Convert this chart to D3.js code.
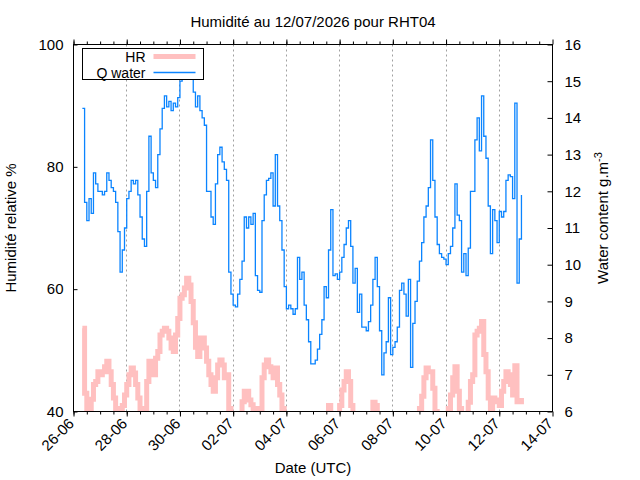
<!DOCTYPE html>
<html>
<head>
<meta charset="utf-8">
<script src="https://cdn.jsdelivr.net/npm/d3@7"></script>
<style>
  body { margin: 0; background: #fff; }
  text { font-family: "Liberation Sans", Arial, sans-serif; fill: #000; }
</style>
</head>
<body>
<div id="chart"></div>
<script>

// first sample 26-06 08:00 UTC, one sample every 2 hours
var startTime = Date.UTC(2026, 5, 26, 8);
var stepHours = 2;

// Q water (g.m-3), right axis
var qWater = [
  14.26, 11.7, 11.2, 11.8, 11.4, 12.5, 12.2, 12.0,
  12.0, 11.9, 12.0, 12.5, 12.3, 12.1, 12.0, 11.7, 10.9, 9.8, 10.4, 11.0,
  11.8, 12.0, 12.3, 12.2, 12.3, 11.9, 11.3, 10.7, 10.5, 12.0, 13.5, 12.5,
  12.3, 12.1, 13.0, 13.7, 14.26, 14.6, 14.3, 14.45, 14.2, 14.4, 14.3, 14.55,
  15.0, 15.3, 15.4, 15.5, 15.4, 15.1, 14.7, 14.3, 14.6, 14.2, 14.0, 13.8,
  12.0, 12.0, 11.3, 11.1, 12.2, 13.0, 13.2, 12.8, 12.6, 12.3, 9.8, 9.2,
  8.9, 8.85, 9.2, 9.6, 10.1, 11.3, 11.0, 11.3, 11.1, 11.4, 9.7, 9.3,
  9.25, 11.2, 11.9, 12.3, 12.35, 12.5, 11.6, 13.0, 11.6, 11.2, 10.4, 9.4,
  8.8, 8.9, 8.8, 8.65, 8.8, 10.2, 9.6, 9.8, 8.9, 8.5, 7.9, 7.3,
  7.3, 7.4, 7.7, 8.1, 8.5, 9.4, 9.1, 10.4, 11.5, 9.7, 9.75, 9.6,
  9.8, 10.2, 10.55, 11.0, 11.2, 10.5, 9.5, 9.9, 8.7, 9.2, 8.3, 8.3,
  8.2, 8.45, 8.9, 9.6, 10.2, 9.4, 8.2, 7.0, 7.6, 7.9, 9.1, 7.55,
  7.75, 7.9, 8.3, 9.3, 9.5, 9.2, 8.6, 9.6, 7.2, 8.4, 9.0, 9.55,
  10.1, 10.6, 11.3, 11.6, 12.1, 13.4, 12.3, 11.3, 10.55, 10.3, 10.2, 10.15,
  10.0, 10.3, 10.5, 11.0, 12.2, 11.35, 11.2, 9.8, 10.3, 9.7, 10.45, 12.0,
  12.0, 13.4, 14.0, 13.1, 14.6, 13.5, 12.9, 11.6, 10.3, 11.5, 11.2, 10.6,
  11.45, 11.3, 11.45, 12.3, 12.45, 12.4, 11.8, 14.4, 9.5, 10.7, 11.9
];

// HR (%), left axis
var hrValues = [
  53.6, 43, 39, 40.2, 42, 44.4, 44.9, 46.5,
  46, 46.5, 47.3, 48.2, 46.5, 44.4, 42.2, 40.5, 39.5, 39, 41, 42.7,
  44.4, 46, 47.1, 46.3, 44.4, 42.2, 40.5, 39.5, 40.5, 44.9, 48.2, 46.5,
  46, 48.7, 49.8, 52.5, 53.1, 53.6, 53.1, 52, 50.4, 49.8, 52.5, 55.2,
  58.5, 59.1, 60.2, 61.8, 60.7, 58, 54.5, 50.5, 49, 52, 52, 50.4,
  48.2, 46, 44.4, 43.3, 45.5, 47.6, 48.4, 47.6, 45.5, 46, 40.5, 38.9,
  38, 38, 37.5, 37, 41.6, 43.3, 43.3, 41.9, 41.1, 40.5, 39.5, 38.9,
  40.5, 45.5, 47.6, 48.4, 47.3, 46.5, 45.5, 47.1, 44.4, 42.7, 40.5, 38.9,
  37.5, 36.8, 36, 35.5, 35.8, 36.5, 36.2, 35.8, 35.5, 36, 36.8, 37.5,
  38, 38.5, 38.2, 37.8, 38, 38.5, 39.2, 41, 39.5, 38.6, 38.2, 39,
  41, 43.5, 44.9, 46.5, 44.9, 41, 39.5, 38.5, 37.8, 37.5, 37.2, 37.5,
  38, 38.5, 39.5, 41.5, 41, 39.5, 38.5, 37.8, 37.2, 36.8, 36.5, 36.2,
  36, 35.8, 35.5, 35.8, 36.2, 36.8, 37.5, 38, 38.2, 38.5, 38.2, 38,
  40.5, 42.5, 45.5, 47.1, 46.5, 46.5, 43.8, 40, 38.5, 38, 37.8, 38.5,
  39, 40.5, 42.7, 45.5, 47.3, 43.3, 40.5, 38.5, 38, 39, 41.5, 44.9,
  46, 52.5, 53.1, 53.6, 54.7, 49.3, 46.5, 42.2, 40.5, 42.2, 41.6, 41.9,
  41, 43.3, 44.9, 46.5, 46, 44.4, 42.7, 47.5, 41.6, 41.6, 42.2
];

var xTickLabels = ["26-06", "28-06", "30-06", "02-07", "04-07", "06-07", "08-07", "10-07", "12-07", "14-07"];
var hrTicks = [40, 60, 80, 100];
var qTicks = [6, 7, 8, 9, 10, 11, 12, 13, 14, 15, 16];
var seriesNames = ["HR", "Q water"];

// set the dimensions and margins of the graph
var margin = { top: 44, right: 88, bottom: 69, left: 73 };
var width = 640 - margin.left - margin.right;
var height = 480 - margin.top - margin.bottom;

var svg = d3.select("#chart")
  .append("svg")
  .attr("width", 640)
  .attr("height", 480)
  .append("g")
  .attr("transform", "translate(" + (margin.left + 0.5) + "," + (margin.top + 0.5) + ")");

var parseTick = d3.utcParse("%d-%m-%Y");
var tickDates = xTickLabels.map(function (s) { return parseTick(s + "-2026"); });

var data = qWater.map(function (q, i) {
  return { date: new Date(startTime + i * stepHours * 3600000), q: q, hr: hrValues[i] };
});

// scales
var x = d3.scaleUtc()
  .domain([tickDates[0], tickDates[tickDates.length - 1]])
  .range([0, width]);
var yL = d3.scaleLinear().domain([40, 100]).range([height, 0]);
var yR = d3.scaleLinear().domain([6, 16]).range([height, 0]);

// grid lines
svg.append("g")
  .selectAll("line")
  .data(tickDates.slice(1, -1))
  .enter()
  .append("line")
  .attr("x1", function (d) { return Math.round(x(d)); })
  .attr("x2", function (d) { return Math.round(x(d)); })
  .attr("y1", 0)
  .attr("y2", height)
  .attr("stroke", "#a0a0a0")
  .attr("stroke-dasharray", "2,3");

svg.append("clipPath")
  .attr("id", "clip")
  .append("rect")
  .attr("width", width)
  .attr("height", height);

var plot = svg.append("g").attr("clip-path", "url(#clip)");

var hrLine = d3.line()
  .curve(d3.curveStepAfter)
  .x(function (d) { return x(d.date); })
  .y(function (d) { return yL(d.hr); });

var qLine = d3.line()
  .curve(d3.curveStepAfter)
  .x(function (d) { return x(d.date); })
  .y(function (d) { return yR(d.q); });

plot.append("path")
  .datum(data)
  .attr("fill", "none")
  .attr("stroke", "#ffc0c0")
  .attr("stroke-width", 5)
  .attr("d", hrLine);

plot.append("path")
  .datum(data)
  .attr("fill", "none")
  .attr("stroke", "#0a84ff")
  .attr("stroke-width", 1.3)
  .attr("d", qLine);

// axes
var minorTicks = d3.utcHour.every(12).range(tickDates[0], tickDates[tickDates.length - 1]);

svg.append("g")
  .attr("class", "axis")
  .attr("transform", "translate(0," + height + ")")
  .call(d3.axisBottom(x).tickValues(minorTicks).tickSize(3).tickFormat(""));

var xAxis = svg.append("g")
  .attr("class", "axis")
  .attr("transform", "translate(0," + height + ")")
  .call(d3.axisBottom(x).tickValues(tickDates).tickSize(5).tickFormat(function (d, i) { return xTickLabels[i]; }));

xAxis.selectAll("text")
  .attr("text-anchor", "end")
  .attr("dy", null)
  .attr("y", null)
  .attr("transform", "translate(1,13) rotate(-45)");

svg.append("g")
  .attr("class", "axis")
  .call(d3.axisTop(x).tickValues(minorTicks).tickSize(3).tickFormat(""));
svg.append("g")
  .attr("class", "axis")
  .call(d3.axisTop(x).tickValues(tickDates).tickSize(5).tickFormat(""));

svg.append("g")
  .attr("class", "axis")
  .call(d3.axisLeft(yL).tickValues(hrTicks).tickSize(-4).tickPadding(10));

svg.append("g")
  .attr("class", "axis")
  .attr("transform", "translate(" + width + ",0)")
  .call(d3.axisRight(yR).tickValues(qTicks).tickSize(-5).tickPadding(12));

svg.selectAll(".axis .domain").remove();
svg.selectAll(".axis line").attr("stroke", "#000");
svg.selectAll(".axis text").style("font-size", "15px").style("font-family", "'Liberation Sans', Arial, sans-serif").attr("fill", "#000");

svg.append("rect")
  .attr("width", width)
  .attr("height", height)
  .attr("fill", "none")
  .attr("stroke", "#000");

// Add title
svg.append("text")
  .attr("x", width / 2)
  .attr("y", -18)
  .attr("text-anchor", "middle")
  .style("font-size", "15px")
  .text("Humidité au 12/07/2026 pour RHT04");

// axis labels
svg.append("text")
  .attr("x", width / 2)
  .attr("y", height + 61)
  .attr("text-anchor", "middle")
  .style("font-size", "15px")
  .text("Date (UTC)");

svg.append("text")
  .attr("transform", "translate(-58," + (height / 2) + ") rotate(-90)")
  .attr("text-anchor", "middle")
  .style("font-size", "15px")
  .text("Humidité relative %");

var rLabel = svg.append("text")
  .attr("transform", "translate(" + (width + 55) + "," + (height / 2 - 10) + ") rotate(-90)")
  .attr("text-anchor", "middle")
  .style("font-size", "15px");
rLabel.append("tspan").text("Water content g.m");
rLabel.append("tspan").attr("dy", -6).style("font-size", "11px").text("-3");

// legend (opaque box)
var legend = svg.append("g").attr("transform", "translate(9,4)");
legend.append("rect")
  .attr("width", 121)
  .attr("height", 31)
  .attr("fill", "#fff")
  .attr("stroke", "#000");

var legendColors = ["#ffc0c0", "#0a84ff"];
var legendWidths = [5, 1.3];
seriesNames.forEach(function (name, i) {
  legend.append("text")
    .attr("x", 63)
    .attr("y", 13 + i * 16)
    .attr("text-anchor", "end")
    .style("font-size", "14px")
    .text(name);
  legend.append("line")
    .attr("x1", 71)
    .attr("x2", 113)
    .attr("y1", 8 + i * 16)
    .attr("y2", 8 + i * 16)
    .attr("stroke", legendColors[i])
    .attr("stroke-width", legendWidths[i]);
});

</script>
</body>
</html>
